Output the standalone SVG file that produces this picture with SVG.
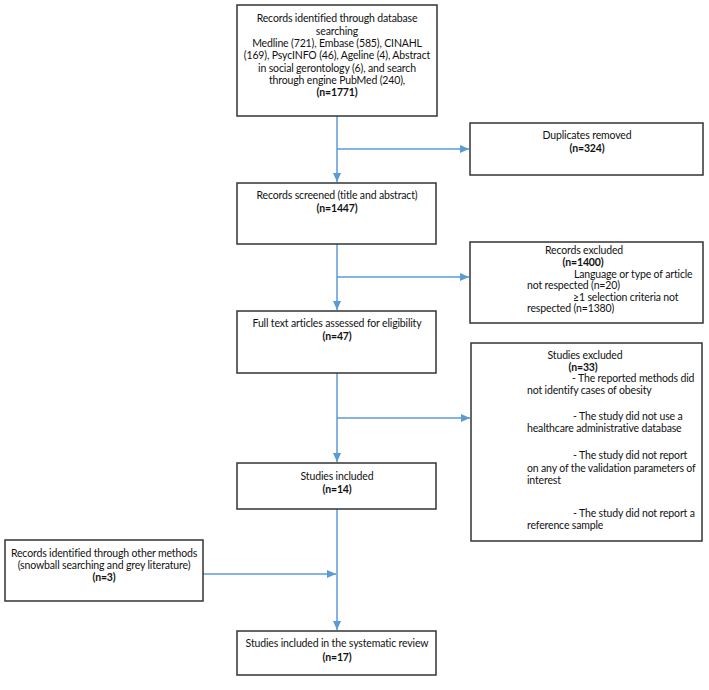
<svg xmlns="http://www.w3.org/2000/svg" width="709" height="690" viewBox="0 0 709 690">
<defs>
<marker id="ah" markerWidth="10" markerHeight="10" refX="9" refY="5" orient="auto" markerUnits="userSpaceOnUse">
<path d="M0,1 L9,5 L0,9 Z" fill="#5b9bd5"/>
</marker>
<style>
.box{fill:#fff;stroke:#333;stroke-width:1.5}
.t{font-family:Lato,"Liberation Sans",sans-serif;font-size:10.5px;letter-spacing:-0.15px;fill:#111}
.c{text-anchor:middle}
.b{font-weight:bold}
.ln{stroke:#5b9bd5;stroke-width:1.5;fill:none}
</style>
</defs>
<rect width="709" height="690" fill="#fff"/>
<g id="connectors">
<line class="ln" x1="337" y1="116" x2="337" y2="182" marker-end="url(#ah)"/>
<line class="ln" x1="337" y1="149" x2="469" y2="149" marker-end="url(#ah)"/>
<line class="ln" x1="337" y1="244" x2="337" y2="310" marker-end="url(#ah)"/>
<line class="ln" x1="337" y1="277" x2="469" y2="277" marker-end="url(#ah)"/>
<line class="ln" x1="337" y1="373" x2="337" y2="462" marker-end="url(#ah)"/>
<line class="ln" x1="337" y1="418" x2="470" y2="418" marker-end="url(#ah)"/>
<line class="ln" x1="337" y1="509" x2="337" y2="630" marker-end="url(#ah)"/>
<line class="ln" x1="203" y1="574" x2="336" y2="574" marker-end="url(#ah)"/>
</g>
<g id="n1">
<rect class="box" x="237" y="5" width="200" height="111"/>
<text class="t c" x="337" y="22">Records identified through database</text>
<text class="t c" x="337" y="35">searching</text>
<text class="t c" x="337" y="47">Medline (721), Embase (585), CINAHL</text>
<text class="t c" x="337" y="59">(169), PsycINFO (46), Ageline (4), Abstract</text>
<text class="t c" x="337" y="72">in social gerontology (6), and search</text>
<text class="t c" x="337" y="84">through engine PubMed (240),</text>
<text class="t c b" x="337" y="96">(n=1771)</text>
</g>
<g id="n2">
<rect class="box" x="470" y="123" width="233" height="52"/>
<text class="t c" x="587" y="139">Duplicates removed</text>
<text class="t c b" x="587" y="152">(n=324)</text>
</g>
<g id="n3">
<rect class="box" x="237" y="183" width="199" height="61"/>
<text class="t c" x="337" y="199">Records screened (title and abstract)</text>
<text class="t c b" x="337" y="212">(n=1447)</text>
</g>
<g id="n4">
<rect class="box" x="470" y="242" width="233" height="81"/>
<text class="t c" x="584" y="254">Records excluded</text>
<text class="t c b" x="583" y="266">(n=1400)</text>
<text class="t" x="574" y="278">Language or type of article</text>
<text class="t" x="527" y="289">not respected (n=20)</text>
<text class="t" x="573" y="301">≥1 selection criteria not</text>
<text class="t" x="527" y="312">respected (n=1380)</text>
</g>
<g id="n5">
<rect class="box" x="237" y="311" width="199" height="62"/>
<text class="t c" x="337" y="327">Full text articles assessed for eligibility</text>
<text class="t c b" x="337" y="340">(n=47)</text>
</g>
<g id="n6">
<rect class="box" x="471" y="343" width="231" height="198"/>
<text class="t c" x="585" y="359">Studies excluded</text>
<text class="t c b" x="583" y="371">(n=33)</text>
<text class="t" x="572" y="382">- The reported methods did</text>
<text class="t" x="527" y="394">not identify cases of obesity</text>
<text class="t" x="573" y="420">- The study did not use a</text>
<text class="t" x="527" y="432">healthcare administrative database</text>
<text class="t" x="573" y="459">- The study did not report</text>
<text class="t" x="527" y="472">on any of the validation parameters of</text>
<text class="t" x="527" y="484">interest</text>
<text class="t" x="573" y="517">- The study did not report a</text>
<text class="t" x="527" y="529">reference sample</text>
</g>
<g id="n7">
<rect class="box" x="237" y="463" width="199" height="46"/>
<text class="t c" x="337" y="480">Studies included</text>
<text class="t c b" x="337" y="493">(n=14)</text>
</g>
<g id="n8">
<rect class="box" x="5" y="540" width="198" height="61"/>
<text class="t c" x="104" y="557">Records identified through other methods</text>
<text class="t c" x="104" y="569">(snowball searching and grey literature)</text>
<text class="t c b" x="104" y="581">(n=3)</text>
</g>
<g id="n9">
<rect class="box" x="237" y="631" width="199" height="44"/>
<text class="t c" x="337" y="647">Studies included in the systematic review</text>
<text class="t c b" x="337" y="661">(n=17)</text>
</g>
</svg>
